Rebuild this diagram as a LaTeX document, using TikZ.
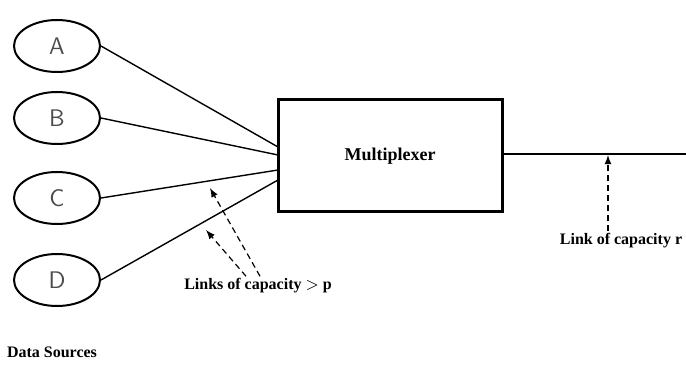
\documentclass[tikz,border=0pt]{standalone}
\usepackage{fontspec}
\setmainfont{Liberation Serif}
\usetikzlibrary{arrows,shapes.geometric}

\tikzset{
  src/.style={draw,ellipse,line width=1pt,minimum width=43pt,minimum height=26pt,inner sep=0pt,font=\sffamily\large\color{black!70}},
  link/.style={line width=0.7pt},
  note/.style={densely dashed,line width=0.6pt,-latex},
  lbl/.style={font=\bfseries\footnotesize,inner sep=1pt}
}

\begin{document}
\begin{tikzpicture}[x=0.5pt,y=-0.5pt]
\useasboundingbox (0,0) rectangle (686,369);
% the data sources, top to bottom
\node[src] (A) at (57,46) {A};
\node[src] (B) at (57,118) {B};
\node[src] (C) at (57,198) {C};
\node[src] (D) at (57,280) {D};
\node[lbl] (ds) at (52,352) {Data Sources};
% the box
\node[draw,line width=1.5pt,minimum width=112pt,minimum height=56pt,inner sep=0pt,
      font=\bfseries\small] (mux) at (390,156) {Multiplexer};
% where the inputs meet the box
\coordinate (in1) at (278,147);
\coordinate (in2) at (278,155);
\coordinate (in3) at (278,170);
\coordinate (in4) at (278,180);
\draw[link] (A.east) -- (in1);
\draw[link] (B.east) -- (in2);
\draw[link] (C.east) -- (in3);
\draw[link] (D.east) -- (in4);
% output link
\coordinate (out) at (686,154);
\draw[link,line width=0.9pt] (mux.east |- out) -- (out);
% labels with dashed pointers
\node[lbl] (inl) at (258,286) {Links of capacity $>$ p};
\node[lbl] (outl) at (621,241) {Link of capacity r};
\coordinate (p1) at (210,188);
\coordinate (p2) at (206,230);
\coordinate (p3) at (608,155);
\draw[note] (inl.north) ++(2,0) coordinate (t1) (t1) -- (p1);
\draw[note] (inl.north) ++(-12,0) coordinate (t2) (t2) -- (p2);
\draw[note] (outl.north -| p3) -- (p3);
\end{tikzpicture}
\end{document}
